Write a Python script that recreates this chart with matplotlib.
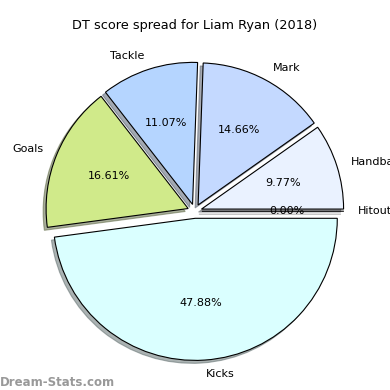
import matplotlib
matplotlib.use("Agg")
import matplotlib.pyplot as plt

labels = ["Hitout", "Handball", "Mark", "Tackle", "Goals", "Kicks"]
shares = [0.00, 9.77, 14.66, 11.07, 16.61, 47.88]
colors = ["#FFFFFF", "#EAF2FF", "#C4D9FF", "#B5D5FF", "#D0EA8A", "#DAFFFF"]
explode = [0.05] * len(labels)

fig, ax = plt.subplots(figsize=(3.9, 3.9), dpi=100)
ax.pie(shares, labels=labels, colors=colors, explode=explode, autopct='%1.2f%%',
       shadow={'ox': -0.015, 'oy': -0.015, 'shade': 0.6}, startangle=0,
       wedgeprops={'edgecolor': 'black', 'linewidth': 0.8},
       textprops={'fontsize': 8})
ax.set_title("DT score spread for Liam Ryan (2018)", fontsize=9.3, pad=6)
ax.axis('equal')
plt.subplots_adjust(left=0.08, right=0.92, top=0.903, bottom=0.013)
fig.text(0.0, 0.01, "Dream-Stats.com", fontsize=8.5, color='#999999', fontweight='bold')
fig.savefig("out.png", dpi=100)
